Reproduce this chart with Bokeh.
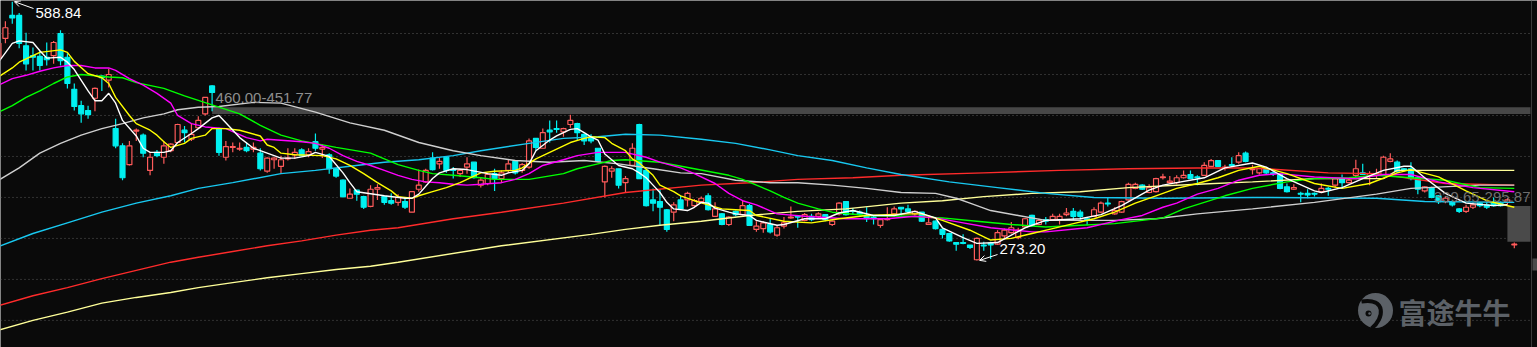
from bokeh.plotting import figure
from bokeh.models import Range1d, Arrow, OpenHead
from bokeh.embed import file_html
from bokeh.resources import INLINE
from bokeh.core.properties import value

# ---------------- data ----------------
opens = [520,544,572,572,535,523,522,521,523,550, 521,482,462,456,471,498,493,434,413,390,
         431,426,383,405,399,407,417,432,421,435, 452,486,434,399,411,409,411,409,404,382,
         396,388,397,402,408,402,418,409,402,385, 371,349,359,351,339,360,351,346,344,345,
         332,360,369,398,391,399,384,379,387,393, 365,367,379,373,383,394,383,387,422,410,
         432,434,430,439,440,427,422,410,369,382, 385,368,389,439,383,347,345,335,332,347,
         347,340,345,352,327,330,317,333,329,340, 311,312,317,304,315,325,327,322,327,327,
         329,317,330,345,334,332,328,326,316,323, 330,338,336,330,332,317,321,311,306,295,
         295,292,274,292,294,293,303,307,301,314, 328,317,323,323,323,329,333,332,324,327,
         332,343,330,332,347,361,365,356,357,374, 368,368,374,378,375,377,388,395,386,390,
         393,404,384,380,385,380,378,363,360,355, 355,355,357,361,365,373,368,377,380,376,
         377,377,394,393,385,385,374,358,362,352, 345,345,336,333,338,343,341,343,343,344,
         292]
closes = [538,557,569,538,513,521,511,518,539,517, 489,461,452,451,483,496,500,413,374,413,
          432,404,399,401,413,415,439,429,427,444, 472,478,405,412,412,410,407,411,385,398,
          398,396,398,405,401,406,410,411,385,376, 351,354,354,338,360,362,344,343,350,338,
          357,365,383,384,394,383,383,383,391,374, 371,378,373,380,391,380,390,419,411,429,
          430,433,434,444,429,419,419,394,388,385, 365,373,410,373,340,343,338,311,341,336,
          355,346,349,335,336,317,326,329,340,316, 315,319,308,313,319,326,326,329,323,330,
          323,321,343,329,333,330,324,324,323,324, 336,336,333,333,321,319,312,305,297,293,
          294,289,300,291,292,307,310,313,310,324, 316,322,321,327,327,331,327,327,323,335,
          343,342,334,345,366,366,360,362,373,375, 370,374,377,373,374,389,395,388,387,389,
          401,394,385,385,380,379,361,357,362,354, 353,354,361,360,373,368,371,385,378,379,
          379,399,397,382,383,373,360,363,350,345, 349,341,333,338,341,340,338,340,340,347,
          293]
highs = [541,565,588.84,575,551,533,529,539,541,554, 526,489,468,462,484,499,507,446,416,419,
         434,428,404,408,419,416,440,437,440,449, 472,487,435,419,417,417,417,417,410,399,
         399,401,410,410,410,410,428,415,404,386, 372,361,359,352,365,366,352,355,354,349,
         358,384,385,405,398,400,387,385,399,393, 374,380,385,383,397,395,392,422,422,434,
         444,444,435,451,441,428,427,410,389,388, 385,376,416,440,384,361,360,336,344,352,
         357,348,351,355,344,331,327,334,346,342, 321,321,324,316,326,339,328,331,330,332,
         329,322,344,345,337,334,338,328,324,338, 339,338,341,334,332,326,322,312,307,295,
         305,292,301,296,296,310,312,320,313,325, 329,324,326,330,330,337,337,335,326,338,
         345,350,338,346,368,368,366,366,374,379, 376,377,383,383,377,393,397,395,390,399,
         405,406,390,386,386,382,379,367,366,357, 360,356,367,363,374,378,373,396,391,382,
         385,401,404,395,386,393,376,364,363,353, 351,346,337,341,344,344,344,350,345,349,
         295]
lows = [514,538,562,532,505,505,505,511,513,511, 483,456,441,446,455,480,484,410,371,389,
        419,399,377,399,391,405,416,417,419,434, 450,455,401,395,405,407,405,405,383,380,
        385,379,395,397,401,399,407,398,379,374, 350,349,346,336,338,347,341,341,340,336,
        332,357,368,383,385,380,373,375,379,373, 362,365,358,368,380,378,380,385,407,410,
        417,429,424,435,419,414,416,393,350,374, 361,356,388,373,339,333,316,308,321,335,
        339,338,344,334,326,316,315,327,328,315, 308,307,306,302,312,324,313,321,321,324,
        321,315,328,328,329,328,320,317,313,322, 328,328,331,328,320,317,311,300,296,285,
        293,287,273.2,285,275,292,300,306,299,313, 314,316,317,322,317,327,322,323,316,326,
        331,339,329,331,346,360,359,355,356,372, 367,366,373,373,365,376,387,387,383,388,
        391,393,378,378,378,376,360,356,359,344, 349,351,356,352,362,361,367,374,378,365,
        373,376,393,380,382,371,354,356,349,342, 343,339,331,331,336,338,336,339,339,341,
        288]

# moving averages: candle index -> value
ma5_at = [0,2,3,5,6,7,9,10,11,13,14,15,16,17,18,20,21,22,24,25,26,28,29,31,32,33,35,37,38,40,41,43,45,46,48,
          50,51,52,56,59,60,61,63,64,66,68,71,73,74,76,77,78,80,81,83,84,85,86,87,88,90,92,93,94,95,96,97,98,
          100,101,102,103,104,106,107,109,110,113,114,117,120,122,124,127,130,133,136,137,140,142,145,149,152,
          157,160,163,167,169,171,175,178,182,184,187,191,192,195,198,201,204,205,207,210,213,217,219]
ma5 = [515,538,541,539,529,520,521,515,506,480,468,468,477,465,444,425,410,405,405,407,417,428,434,447,450,441,423,410,407,401,398,398,401,405,400,
       380,368,357,352,349,349,354,373,380,385,384,379,377,380,383,391,407,420,425,433,434,429,424,420,403,389,385,380,374,365,356,344,336,
       334,338,344,343,337,332,330,328,322,316,317,324,324,331,334,328,328,333,325,313,301,294,295,313,322,
       324,329,340,359,365,368,374,386,392,387,373,358,356,362,373,383,388,388,374,355,343,340,341]
ma10_at = [0,2,3,5,6,9,10,11,13,15,16,17,19,20,22,23,24,25,27,28,30,31,33,35,38,39,40,41,43,47,49,51,53,55,57,58,60,61,63,65,67,68,70,72,
           75,76,78,80,82,83,85,86,88,89,91,92,93,95,96,98,99,101,103,105,107,109,110,114,118,122,126,132,134,137,141,144,147,150,153,
           156,159,162,165,168,171,174,177,180,183,187,191,195,199,203,205,209,213,216,220]
ma10 = [497,508,515,523,527,530,527,516,501,496,489,472,450,440,432,426,418,411,416,422,426,434,434,432,425,414,411,404,402,401,397,389,379,368,358,351,349,352,357,362,368,372,380,382,
        383,386,397,405,413,417,422,424,423,416,407,397,392,377,365,357,352,346,341,336,335,334,328,321,319,324,328,330,330,322,310,298,300,306,312,
        318,324,332,343,352,361,367,374,383,388,379,367,361,367,380,384,375,358,346,338]
ma20_at = [0,2,4,6,8,10,12,14,16,17,19,21,23,25,26,28,30,33,36,38,39,44,46,48,50,52,54,56,58,60,62,64,66,68,70,73,75,77,79,82,84,87,91,94,96,99,
           101,104,106,108,110,113,117,123,129,133,136,140,144,150,152,158,163,166,169,171,174,177,180,183,186,191,197,201,205,209,214,220]
ma20 = [487,495,499,504,508,511,511,508,508,505,495,487,477,465,450,440,436,434,423,419,421,418,416,410,401,394,389,383,377,372,369,368,366,365,366,368,372,379,389,396,401,405,405,399,393,386,
        379,367,355,346,341,330,327,324,324,327,325,319,313,308,308,313,323,328,338,343,354,361,371,377,379,375,373,378,378,369,362,357]
ma30_at = [0,2,4,6,8,10,12,16,18,20,24,27,31,35,38,39,41,44,49,54,56,58,61,63,66,70,72,77,82,84,87,89,91,96,101,106,108,112,114,116,119,121,126,
           132,137,142,147,152,157,162,166,169,172,175,178,182,187,191,196,200,205,210,215,220]
ma30 = [454,462,472,480,489,497,500,497,496,490,483,474,463,452,438,434,426,419,411,404,397,390,383,379,377,374,372,372,379,385,391,395,396,393,385,377,372,358,350,343,336,332,328,
        327,325,321,317,314,316,318,322,325,336,344,352,361,369,373,374,377,374,371,362,361]
ma60_at = [0,3,6,9,12,15,18,21,24,26,29,32,37,41,46,51,56,61,66,70,75,80,85,90,95,99,102,107,112,116,121,126,131,136,139,141,144,148,152,156,162,
           168,174,182,191,200,205,215,220]
ma60 = [371,386,404,416,426,434,440,447,452,457,460,461,466,465,454,441,432,417,407,401,395,393,395,391,385,380,379,371,368,368,365,361,356,355,349,343,334,328,322,322,322,
        324,330,336,344,354,361,365,365]
ma120_at = [0,5,10,15,20,25,29,34,41,46,51,56,61,66,70,77,82,87,91,96,102,107,112,116,121,126,131,138,145,152,159,169,182,200,207,220]
ma120 = [290,306,319,332,343,352,361,368,379,383,388,393,396,401,407,416,422,424,427,426,421,416,408,401,395,386,378,369,362,355,350,349,350,349,345,344]
ma250_at = [0,5,10,15,20,25,29,34,39,44,49,54,58,66,73,82,91,102,109,116,124,131,143,154,164,174,182,193,200,210,220]
ma250 = [218,230,240,251,261,271,277,284,291,297,304,310,313,324,332,343,356,365,368,372,374,377,380,383,385,386,386,380,379,367,365]
ma500_at = [0,5,10,15,20,25,29,34,39,44,49,54,58,73,86,91,96,102,109,116,123,131,137,143,150,157,164,174,182,191,201,203,220]
ma500 = [188,200,210,221,228,234,240,246,252,257,262,266,271,291,305,311,316,321,328,333,336,343,346,351,355,357,362,366,369,373,373,383,383]

grid_levels = [550, 500, 450, 400, 350, 300, 250, 200]
band_start, band_hi, band_lo = 31, 460.00, 451.77
box_start, box_hi, box_lo = 219, 339.65, 295.87
hi_label, lo_label = "588.84", "273.20"

# ---------------- layout ----------------
BG = "#0a0a0a"
W, H = 1537, 347
STEP = 6.89           # px per candle
PPX = 1.22            # price per px
X0 = 2 / STEP
X1 = X0 + W / STEP
Y1 = 550 + 33 * PPX
Y0 = Y1 - H * PPX

def xd(px):
    return X0 + px / STEP

def yd(py):
    return Y1 - py * PPX

RIGHT = xd(1530)

p = figure(width=W, height=H, x_range=Range1d(X0, X1), y_range=Range1d(Y0, Y1),
           output_backend="svg", toolbar_location=None,
           x_axis_location=None, y_axis_location=None, min_border=0,
           background_fill_color=BG, border_fill_color=BG, outline_line_color=None)
p.grid.visible = False

# dotted grid
p.segment(x0=[X0] * len(grid_levels), x1=[RIGHT] * len(grid_levels), y0=grid_levels, y1=grid_levels,
          line_color="#5a5a5a", line_dash="1 3", line_width=1)

# price band and right box
p.quad(left=[band_start], right=[RIGHT], bottom=[band_lo], top=[band_hi],
       fill_color="#474747", line_color=None)
p.quad(left=[box_start], right=[RIGHT], bottom=[box_lo], top=[box_hi],
       fill_color="#4a4a4a", line_color=None)

# candles
UP, DN = "#ff5b5b", "#00f0f0"
idx = list(range(len(opens)))
cols = [UP if c >= o else DN for o, c in zip(opens, closes)]
fills = [BG if c >= o else DN for o, c in zip(opens, closes)]
tops = [max(o, c) for o, c in zip(opens, closes)]
bots = [min(o, c) for o, c in zip(opens, closes)]
p.segment(x0=idx, x1=idx, y0=highs, y1=lows, line_color=cols, line_width=1.2)
p.vbar(x=idx, width=0.72, top=tops, bottom=bots, fill_color=fills, line_color=cols, line_width=1.2)

# moving averages
for at, vals, col in [(ma500_at, ma500, "#ffff99"), (ma250_at, ma250, "#ff2b2b"),
                      (ma120_at, ma120, "#18c8f0"), (ma60_at, ma60, "#cfcfcf"),
                      (ma30_at, ma30, "#00ff00"), (ma20_at, ma20, "#ff00ff"),
                      (ma10_at, ma10, "#ffff00"), (ma5_at, ma5, "#ffffff")]:
    p.line(at, vals, line_color=col, line_width=1.4)

# labels
hi_i = highs.index(max(highs))
lo_i = lows.index(min(lows))
FONT = value("Liberation Sans")
p.add_layout(Arrow(end=OpenHead(size=6, line_color="#ffffff", line_width=1),
                   x_start=xd(33), y_start=yd(8), x_end=hi_i + 0.3, y_end=max(highs),
                   line_color="#ffffff", line_width=1))
p.text(x=[xd(35)], y=[yd(12.5)], text=[hi_label], text_color="#ffffff", text_font=FONT,
       text_font_size="15px", text_baseline="middle", text_align="left")
p.add_layout(Arrow(end=OpenHead(size=6, line_color="#ffffff", line_width=1),
                   x_start=xd(997), y_start=yd(254), x_end=lo_i + 0.4, y_end=min(lows),
                   line_color="#ffffff", line_width=1))
p.text(x=[xd(999)], y=[yd(248)], text=[lo_label], text_color="#ffffff", text_font=FONT,
       text_font_size="15px", text_baseline="middle", text_align="left")
p.text(x=[band_start + 0.5], y=[yd(97)], text=["%.2f-%.2f" % (band_hi, band_lo)],
       text_color="#8e8e8e", text_font=FONT, text_font_size="15px",
       text_baseline="middle", text_align="left")
p.text(x=[RIGHT], y=[yd(196)], text=["%.2f-%.2f" % (box_hi, box_lo)],
       text_color="#7c7c7c", text_alpha=0.9, text_font=FONT, text_font_size="15px",
       text_baseline="middle", text_align="right")

# right edge line and scroll thumb
p.segment(x0=[xd(1531)], x1=[xd(1531)], y0=[Y0], y1=[Y1], line_color="#3a3a3a", line_width=1)
p.quad(left=[xd(1532)], right=[xd(1537)], top=[yd(258)], bottom=[yd(270)],
       fill_color="#4a4a4a", line_color=None)

# watermark
WM = "#5c6167"
p.scatter(x=[xd(1375)], y=[yd(310)], size=35, marker="circle", fill_color=WM, line_color=None)
p.bezier(x0=[xd(1361)], y0=[yd(301)], x1=[xd(1371)], y1=[yd(328)],
         cx0=[xd(1386)], cy0=[yd(297)], cx1=[xd(1384)], cy1=[yd(318)],
         line_color=BG, line_width=4)
p.scatter(x=[xd(1368)], y=[yd(313)], size=6, marker="circle", fill_color=BG, line_color=None)
p.scatter(x=[xd(1369)], y=[yd(313)], size=2.5, marker="circle", fill_color=WM, line_color=None)
p.text(x=[xd(1398)], y=[yd(311)], text=["富途牛牛"], text_color=WM,
       text_font=value("Noto Sans CJK SC"), text_font_size="28px", text_font_style="bold",
       text_baseline="middle", text_align="left")

open("out.html", "w").write(file_html(p, INLINE))
